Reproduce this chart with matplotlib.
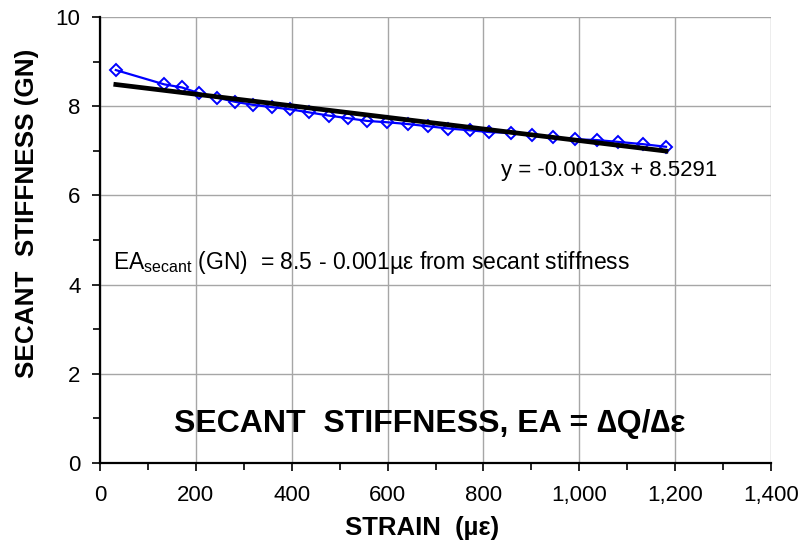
import matplotlib
matplotlib.use("Agg")
import matplotlib.pyplot as plt
from matplotlib.ticker import MultipleLocator, FuncFormatter
import numpy as np

plt.rcParams['font.family'] = ['Liberation Sans', 'DejaVu Sans']

strain = [33, 134, 171, 207, 245, 281, 319, 358, 397, 437, 477, 518, 557, 599,
          642, 685, 727, 771, 812, 858, 901, 945, 992, 1037, 1081, 1132, 1181]
stiffness = [8.81, 8.49, 8.42, 8.29, 8.19, 8.10, 8.03, 7.98, 7.93, 7.86, 7.79,
             7.73, 7.67, 7.64, 7.60, 7.55, 7.50, 7.46, 7.42, 7.40, 7.35, 7.30,
             7.26, 7.24, 7.20, 7.15, 7.09]
trend_slope = -0.0013
trend_intercept = 8.5291

W, H = 806, 552
fig = plt.figure(figsize=(W / 100, H / 100), dpi=100)
ax = fig.add_axes([100 / W, 1 - 463 / H, 671 / W, 446 / H])

ax.grid(True, which='major', color='#a6a6a6', linewidth=1.0, zorder=0)
ax.set_axisbelow(True)

ax.plot(strain, stiffness, color='#0000ff', linewidth=1.6, marker='D',
        markersize=6.5, markerfacecolor='none', markeredgecolor='#0000ff',
        markeredgewidth=1.4, zorder=3)
xt = np.array([strain[0], strain[-1]])
ax.plot(xt, trend_slope * xt + trend_intercept, color='black', linewidth=3.4,
        zorder=4)

ax.set_xlim(0, 1400)
ax.set_ylim(0, 10)
ax.xaxis.set_major_locator(MultipleLocator(200))
ax.xaxis.set_minor_locator(MultipleLocator(100))
ax.yaxis.set_major_locator(MultipleLocator(2))
ax.yaxis.set_minor_locator(MultipleLocator(1))
ax.xaxis.set_major_formatter(FuncFormatter(lambda v, p: f"{int(v):,}"))
ax.tick_params(which='major', direction='out', length=6, width=1.2, labelsize=16)
ax.tick_params(which='minor', direction='out', length=5, width=1.2)
ax.tick_params(axis='x', which='major', pad=10)
ax.tick_params(axis='y', which='major', pad=8)

for s in ['top', 'right']:
    ax.spines[s].set_visible(False)
for s in ['left', 'bottom']:
    ax.spines[s].set_linewidth(1.6)

fig.text(422 / W, 1 - 528 / H, 'STRAIN  (µε)', fontsize=18.5, fontweight='bold',
         ha='center', va='center')
fig.text(27 / W, 1 - 213 / H, 'SECANT  STIFFNESS (GN)', fontsize=18.8,
         fontweight='bold', ha='center', va='center', rotation=90)

ax.text(837, 6.55, 'y = -0.0013x + 8.5291', fontsize=16, ha='left', va='center')
ax.text(27, 4.5, r'EA$_{\mathregular{secant}}$ (GN)  = 8.5 - 0.001µε from secant stiffness',
        fontsize=16.5, ha='left', va='center')
ax.text(687, 0.87, 'SECANT  STIFFNESS, EA = ∆Q/∆ε', fontsize=23,
        fontweight='bold', ha='center', va='center')

fig.savefig('out.png', dpi=100)
